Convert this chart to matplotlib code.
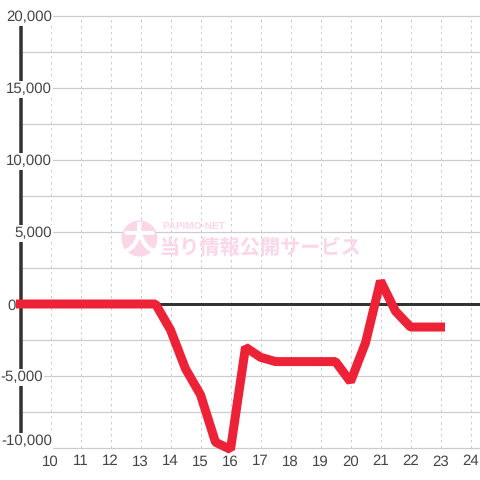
#!/usr/bin/env python3
# -*- coding: utf-8 -*-
import matplotlib
matplotlib.use("Agg")
import matplotlib.pyplot as plt

# Data
hours = [9, 9.5, 10, 10.5, 11, 11.5, 12, 12.5, 13, 13.5, 14, 14.5, 15, 15.5, 16,
         16.5, 17, 17.5, 18, 18.5, 19, 19.5, 20, 20.5, 21, 21.5, 22, 22.5, 23]
values = [0, 0, 0, 0, 0, 0, 0, 0, 0, 0, -1800, -4500, -6300, -9600, -10100,
          -3000, -3700, -4000, -4000, -4000, -4000, -4000, -5400, -2700, 1600, -500, -1600, -1600, -1600]
hour_ticks = [10, 11, 12, 13, 14, 15, 16, 17, 18, 19, 20, 21, 22, 23, 24]
grid_values = [-10000, -7500, -5000, -2500, 0, 2500, 5000, 7500, 10000, 12500, 15000, 17500, 20000]
label_values = [20000, 15000, 10000, 5000, 0, -5000, -10000]
label_texts = ["20,000", "15,000", "10,000", "5,000", "0", "-5,000", "-10,000"]
label_right = [52, 52, 52, 52, 16, 43, 52]
label_shift = [-1.5, -1.5, -1.5, -1.5, -1.5, -1.5, 6.5]

plt.rcParams["font.family"] = ["Liberation Sans", "DejaVu Sans"]
plt.rcParams["text.hinting"] = "no_hinting"
plt.rcParams["text.hinting_factor"] = 1
PX = 0.72  # un pixel en points a dpi 100
TEXT = "#444444"
PINK = "#fbd6e7"

fig = plt.figure(figsize=(4.8, 4.8), dpi=100)
ax = fig.add_axes([0, 0, 1, 1])
ax.set_xlim(10 - 50.5 / 30, 10 + (480 - 50.5) / 30)
ax.set_ylim(-10000 - 32 / 0.0144, 20000 + 16 / 0.0144)
ax.axis("off")

# Grille
ax.hlines(grid_values, 9, ax.get_xlim()[1], color="#cccccc", lw=1.2 * PX, zorder=1)
ax.vlines(hour_ticks, -10000, 20000, color="#cccccc", lw=1 * PX, linestyles=(0, (2.5, 3.5)), zorder=1)

# Filigrane
ax.plot([139 / 480], [1 - 238 / 480], "o", ms=36 * PX, color=PINK, mew=0, transform=ax.transAxes, zorder=2)
ax.text(139 / 480, 1 - 240 / 480, "大", color="white", fontsize=33 * PX, fontweight="bold",
        family=["Noto Sans CJK JP"], ha="center", va="center", transform=ax.transAxes, zorder=2)
ax.text(162 / 480, 1 - 227 / 480, "PAPIMO-NET", color=PINK, fontsize=10 * PX, fontweight="bold",
        ha="left", va="center", transform=ax.transAxes, zorder=2)
ax.text(160 / 480, 1 - 248 / 480, "当り情報公開サービス", color=PINK, fontsize=20.2 * PX, fontweight="bold",
        family=["Noto Sans CJK JP"], ha="left", va="center", transform=ax.transAxes, zorder=2)

# Axes
ax.plot([9, ax.get_xlim()[1]], [0, 0], color="#333333", lw=3 * PX, solid_capstyle="butt", zorder=3)
ax.plot([9, 9], [-10000, 20000], color="#333333", lw=3.5 * PX, solid_capstyle="butt", zorder=3)

# Courbe
ax.plot(hours, values, color="#ee2237", lw=9 * PX, solid_capstyle="projecting",
        solid_joinstyle="bevel", zorder=4)

# Etiquettes
for v, t, r, s in zip(label_values, label_texts, label_right, label_shift):
    ax.annotate(t, xy=(r / 480, v), xycoords=ax.get_yaxis_transform(), xytext=(0, s),
                textcoords="offset pixels", color=TEXT, fontsize=15 * PX, ha="right", va="center",
                zorder=3.5, bbox=dict(facecolor="white", edgecolor="none", pad=1))
for h in hour_ticks:
    ax.text(h, -10000 - 13.5 / 0.0144, str(h), color=TEXT, fontsize=15 * PX, ha="center", va="center", zorder=5)

fig.savefig("out.png", dpi=100)
